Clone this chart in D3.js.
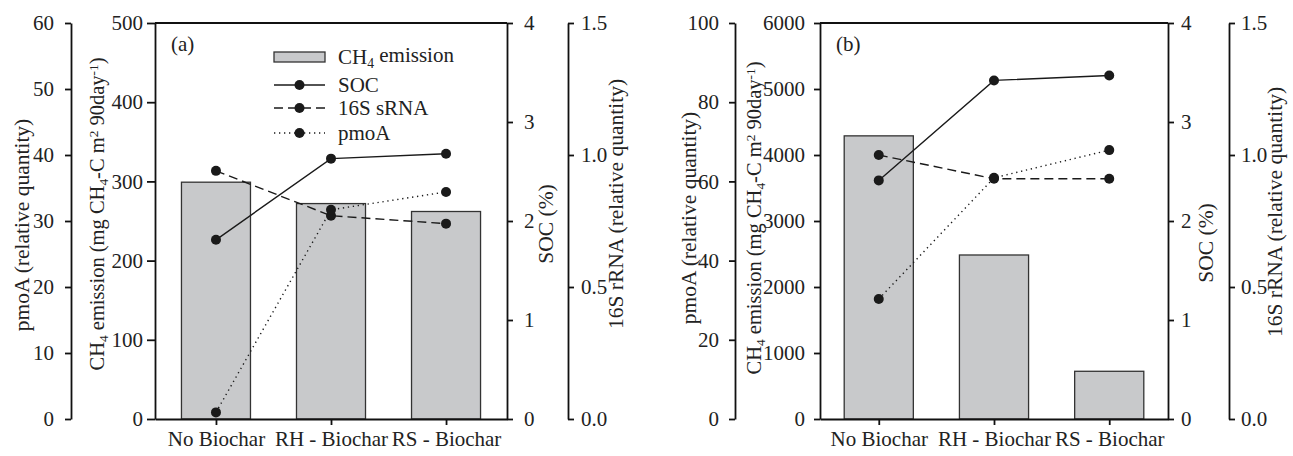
<!DOCTYPE html>
<html>
<head>
<meta charset="utf-8">
<script src="https://cdn.jsdelivr.net/npm/d3@7"></script>
<style>
  body { margin: 0; background: #fff; }
  text { font-family: "Liberation Serif", "Times New Roman", serif; fill: #222; }
</style>
</head>
<body>
<div id="chart"></div>
<script>
// data
const categories = ['No Biochar', 'RH - Biochar', 'RS - Biochar']

const ch4A = [299, 272, 262]
const socA = [1.81, 2.63, 2.68]
const rnaA = [0.94, 0.77, 0.74]
const pmoaA = [1, 31.7, 34.4]

const ch4B = [4290, 2485, 723]
const socB = [2.41, 3.42, 3.47]
const rnaB = [1.0, 0.91, 0.91]
const pmoaB = [30.3, 60.9, 67.9]

const pmoaTicksA = [0, 10, 20, 30, 40, 50, 60]
const ch4TicksA = [0, 100, 200, 300, 400, 500]
const pmoaTicksB = [0, 20, 40, 60, 80, 100]
const ch4TicksB = [0, 1000, 2000, 3000, 4000, 5000, 6000]
const socTicks = [0, 1, 2, 3, 4]
const rnaTicks = [0, 0.5, 1.0, 1.5]

const legendItems = ['CH4 emission', 'SOC', '16S sRNA', 'pmoA']

const width = 1293,
  height = 456,
  plotTop = 23,
  plotBottom = 419

let svg = d3.select('#chart')
  .append('svg')
  .attr('width', width)
  .attr('height', height)

// text with CH4 subscript etc
let richText = (sel, parts) => {
  parts.forEach(p => {
    let t = sel.append('tspan').text(p[0])
    if (p[1] === 'sub') t.attr('dy', '0.3em').style('font-size', '0.65em')
    if (p[1] === 'sup') t.attr('dy', '-0.45em').style('font-size', '0.65em')
    if (p[1] === 'back') t.attr('dy', p[2])
  })
}

let styleAxis = (g, w) => {
  g.select('.domain').attr('stroke', '#111').attr('stroke-width', w || 1.8)
  g.selectAll('.tick line').attr('stroke', '#111').attr('stroke-width', 1.8)
  g.selectAll('.tick text').style('font-size', '21px').attr('fill', '#222')
}

let vTitle = (x, y, parts, size) => {
  let t = svg.append('text')
    .attr('transform', `translate(${x},${y}) rotate(-90)`)
    .attr('text-anchor', 'middle')
    .attr('dy', '0.3em')
    .style('font-size', size || '21.5px')
  richText(t, parts)
}

let ch4Title = [['CH'], ['4', 'sub'], [' emission (mg CH', 'back', '-0.2em'], ['4', 'sub'],
  ['-C m', 'back', '-0.2em'], ['2', 'sup'], [' 90day', 'back', '0.3em'], ['-1', 'sup'], [')', 'back', '0.3em']]

let drawPanel = (cfg) => {
  let x = d3.scalePoint().domain(categories).range([cfg.left, cfg.right]).padding(cfg.pad)
  let step = x.step()
  let yCh4 = d3.scaleLinear().domain([0, d3.max(cfg.ch4Ticks)]).range([plotBottom, plotTop])
  let ySoc = d3.scaleLinear().domain([0, 4]).range([plotBottom, plotTop])
  let yRna = d3.scaleLinear().domain([0, 1.5]).range([plotBottom, plotTop])
  let yPmoa = d3.scaleLinear().domain([0, d3.max(cfg.pmoaTicks)]).range([plotBottom, plotTop])

  // bars
  svg.append('g').selectAll('rect')
    .data(cfg.ch4)
    .enter()
    .append('rect')
    .attr('x', (d, i) => x(categories[i]) - step * 0.3)
    .attr('y', d => yCh4(d))
    .attr('width', step * 0.6)
    .attr('height', d => plotBottom - yCh4(d))
    .attr('fill', '#c8c9cb')
    .attr('stroke', '#333')
    .attr('stroke-width', 1.3)

  let series = [
    { vals: cfg.soc, y: ySoc, dash: null },
    { vals: cfg.rna, y: yRna, dash: '9,5' },
    { vals: cfg.pmoa, y: yPmoa, dash: '1.3,3.7' }
  ]
  series.forEach(s => {
    let line = d3.line()
      .x((d, i) => x(categories[i]))
      .y(d => s.y(d))
    svg.append('path')
      .datum(s.vals)
      .attr('d', line)
      .attr('fill', 'none')
      .attr('stroke', '#1a1a1a')
      .attr('stroke-width', 1.4)
      .attr('stroke-dasharray', s.dash)
  })
  series.forEach(s => {
    svg.append('g').selectAll('circle')
      .data(s.vals)
      .enter()
      .append('circle')
      .attr('cx', (d, i) => x(categories[i]))
      .attr('cy', d => s.y(d))
      .attr('r', 5)
      .attr('fill', '#1a1a1a')
  })

  // frame top
  svg.append('line')
    .attr('x1', cfg.left).attr('x2', cfg.right)
    .attr('y1', plotTop).attr('y2', plotTop)
    .attr('stroke', '#111').attr('stroke-width', 1.8)

  // axes
  svg.append('g')
    .attr('transform', `translate(0,${plotBottom})`)
    .call(d3.axisBottom(x).tickSize(6).tickSizeOuter(0).tickPadding(6))
    .call(g => styleAxis(g))

  svg.append('g')
    .attr('transform', `translate(${cfg.left},0)`)
    .call(d3.axisLeft(yCh4).tickValues(cfg.ch4Ticks).tickSize(cfg.ch4Tick).tickSizeOuter(0).tickPadding(cfg.ch4Pad).tickFormat(d3.format('d')))
    .call(g => styleAxis(g))

  svg.append('g')
    .attr('transform', `translate(${cfg.pmoaX},0)`)
    .call(d3.axisLeft(yPmoa).tickValues(cfg.pmoaTicks).tickSize(6).tickSizeOuter(0).tickPadding(cfg.pmoaPad).tickFormat(d3.format('d')))
    .call(g => styleAxis(g))

  svg.append('g')
    .attr('transform', `translate(${cfg.right},0)`)
    .call(d3.axisRight(ySoc).tickValues(socTicks).tickSize(6).tickSizeOuter(0).tickPadding(cfg.socPad).tickFormat(d3.format('d')))
    .call(g => styleAxis(g))

  svg.append('g')
    .attr('transform', `translate(${cfg.rnaX},0)`)
    .call(d3.axisRight(yRna).tickValues(rnaTicks).tickSize(6).tickSizeOuter(0).tickPadding(cfg.rnaPad).tickFormat(d3.format('.1f')))
    .call(g => styleAxis(g))

  // titles
  vTitle(cfg.t.pmoa[0], cfg.t.pmoa[1], [['pmoA (relative quantity)']])
  vTitle(cfg.t.ch4[0], cfg.t.ch4[1], ch4Title, '20.5px')
  vTitle(cfg.t.soc[0], cfg.t.soc[1], [['SOC (%)']])
  vTitle(cfg.t.rna[0], cfg.t.rna[1], [['16S rRNA (relative quantity)']])

  svg.append('text')
    .attr('x', cfg.left + 16)
    .attr('y', 51)
    .style('font-size', '21px')
    .text(cfg.label)
}

drawPanel({
  label: '(a)', left: 155, right: 507, pad: 0.53, pmoaX: 71, rnaX: 568,
  ch4: ch4A, soc: socA, rna: rnaA, pmoa: pmoaA,
  ch4Ticks: ch4TicksA, pmoaTicks: pmoaTicksA,
  ch4Tick: 8, ch4Pad: 4, pmoaPad: 11, socPad: 11, rnaPad: 7,
  t: { pmoa: [23, 225], ch4: [98, 214], soc: [547, 224], rna: [617, 204] }
})

drawPanel({
  label: '(b)', left: 820, right: 1168, pad: 0.51, pmoaX: 735, rnaX: 1229,
  ch4: ch4B, soc: socB, rna: rnaB, pmoa: pmoaB,
  ch4Ticks: ch4TicksB, pmoaTicks: pmoaTicksB,
  ch4Tick: 6, ch4Pad: 9, pmoaPad: 10, socPad: 7, rnaPad: 6,
  t: { pmoa: [690, 218], ch4: [755, 218], soc: [1207, 243], rna: [1276, 212] }
})

// legend (panel a)
let lg = svg.append('g')
let lgX = 274, lgW = 51, rows = [57, 85, 108, 133]
lg.append('rect')
  .attr('x', lgX).attr('y', rows[0] - 5)
  .attr('width', lgW).attr('height', 10)
  .attr('fill', '#c8c9cb').attr('stroke', '#333').attr('stroke-width', 1.3)
let lgDash = [null, '9,5', '1.3,3.7']
lgDash.forEach((d, i) => {
  let y = rows[i + 1]
  lg.append('line')
    .attr('x1', lgX).attr('x2', lgX + lgW)
    .attr('y1', y).attr('y2', y)
    .attr('stroke', '#1a1a1a').attr('stroke-width', 1.4)
    .attr('stroke-dasharray', d)
  lg.append('circle')
    .attr('cx', lgX + lgW / 2).attr('cy', y).attr('r', 5).attr('fill', '#1a1a1a')
})
legendItems.forEach((name, i) => {
  let t = lg.append('text')
    .attr('x', 338).attr('y', rows[i])
    .attr('dy', '0.32em')
    .style('font-size', '21px')
  if (i === 0) richText(t, [['CH'], ['4', 'sub'], [' emission', 'back', '-0.3em']])
  else t.text(name)
})
</script>
</body>
</html>
